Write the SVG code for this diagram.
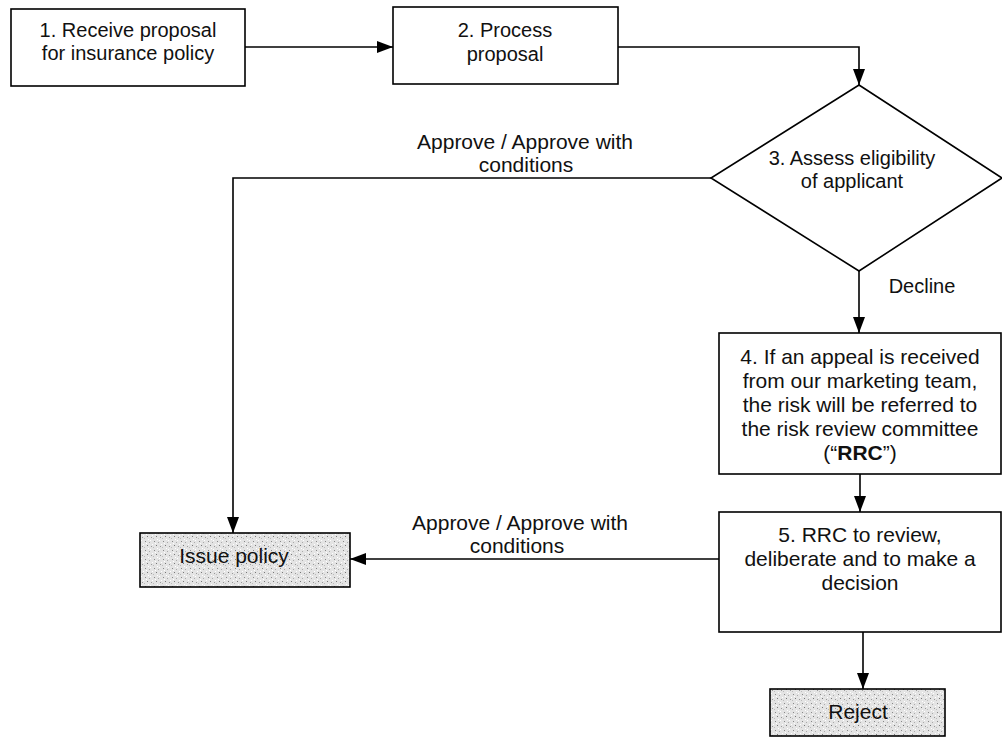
<svg xmlns="http://www.w3.org/2000/svg" width="1002" height="737" viewBox="0 0 1002 737">
<defs>
<marker id="arr" viewBox="0 0 16 12" refX="16" refY="6" markerWidth="16" markerHeight="12" markerUnits="userSpaceOnUse" orient="auto">
<path d="M0,0 L16,6 L0,12 Z" fill="#000"/>
</marker>
<pattern id="stipple" width="9" height="9" patternUnits="userSpaceOnUse">
<rect width="9" height="9" fill="#e4e4e4"/>
<rect x="1" y="1" width="1" height="1" fill="#888"/>
<rect x="5" y="2" width="1" height="1" fill="#aaa"/>
<rect x="3" y="5" width="1" height="1" fill="#777"/>
<rect x="7" y="6" width="1" height="1" fill="#999"/>
<rect x="0" y="7" width="1" height="1" fill="#bbb"/>
<rect x="6" y="0" width="1" height="1" fill="#fff"/>
<rect x="2" y="3" width="1" height="1" fill="#fff"/>
<rect x="8" y="4" width="1" height="1" fill="#fff"/>
<rect x="4" y="8" width="1" height="1" fill="#fff"/>
</pattern>
</defs>
<style>
.box{fill:#fff;stroke:#000;stroke-width:1.6}
.shade{fill:url(#stipple);stroke:#000;stroke-width:1.6}
.con{fill:none;stroke:#000;stroke-width:1.6;marker-end:url(#arr)}
text{font-family:"Liberation Sans",Arial,sans-serif;font-size:21px;fill:#111;text-anchor:middle}
.s20{font-size:20px}
</style>
<rect width="1002" height="737" fill="#fff"/>
<g id="connectors">
<path class="con" d="M245,47 L393,47"/>
<path class="con" d="M618,47 L859,47 L859,85"/>
<path class="con" d="M711,178 L233,178 L233,533"/>
<path class="con" d="M859,271 L859,333"/>
<path class="con" d="M860,474 L860,512"/>
<path class="con" d="M719,559 L350,559"/>
<path class="con" d="M863,632 L863,689"/>
<text x="525" y="149">Approve / Approve with</text>
<text x="526" y="172">conditions</text>
<text x="922" y="293" class="s20">Decline</text>
<text x="520" y="530">Approve / Approve with</text>
<text x="517" y="553">conditions</text>
</g>
<g id="n1">
<rect class="box" x="11" y="9" width="234" height="77"/>
<text x="128" y="37" class="s20">1. Receive proposal</text>
<text x="128" y="60" class="s20">for insurance policy</text>
</g>
<g id="n2">
<rect class="box" x="393" y="7" width="225" height="77"/>
<text x="505" y="37" class="s20">2. Process</text>
<text x="505" y="61" class="s20">proposal</text>
</g>
<g id="n3">
<polygon class="box" points="859,85 1002,178 859,271 711,178"/>
<text x="852" y="165" class="s20">3. Assess eligibility</text>
<text x="852" y="188" class="s20">of applicant</text>
</g>
<g id="n4">
<rect class="box" x="719" y="333" width="282" height="141"/>
<text x="860" y="364">4. If an appeal is received</text>
<text x="860" y="388">from our marketing team,</text>
<text x="860" y="412">the risk will be referred to</text>
<text x="860" y="436">the risk review committee</text>
<text x="860" y="460">(“<tspan font-weight="bold">RRC</tspan>”)</text>
</g>
<g id="n5">
<rect class="box" x="719" y="512" width="282" height="120"/>
<text x="860" y="542">5. RRC to review,</text>
<text x="860" y="566">deliberate and to make a</text>
<text x="860" y="590">decision</text>
</g>
<g id="issue">
<rect class="shade" x="140" y="533" width="210" height="54"/>
<text x="234" y="563">Issue policy</text>
</g>
<g id="reject">
<rect class="shade" x="770" y="689" width="175" height="47"/>
<text x="858" y="719">Reject</text>
</g>
</svg>
